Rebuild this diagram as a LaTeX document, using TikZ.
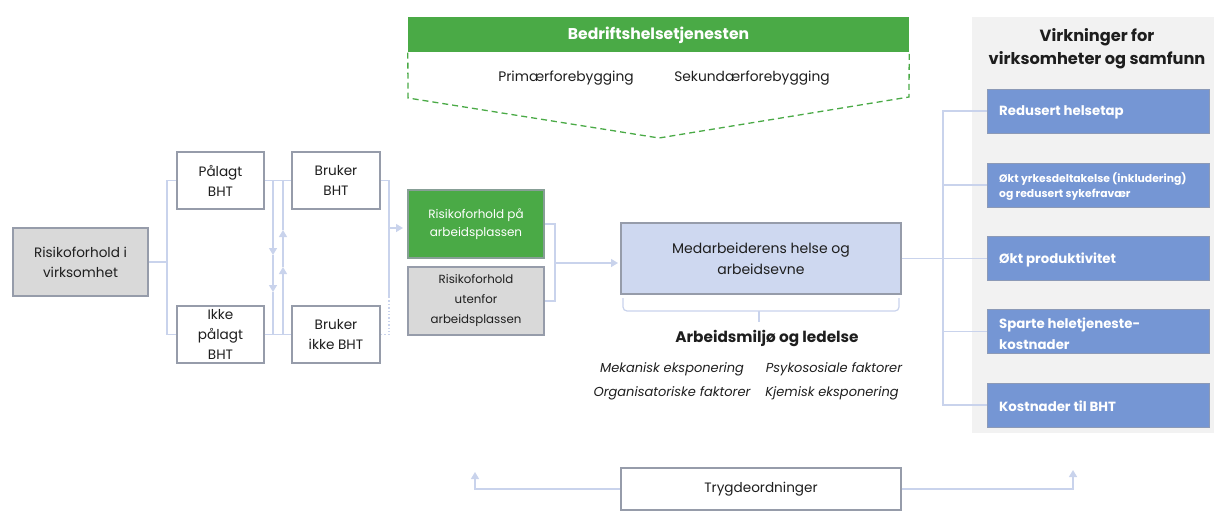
\documentclass[tikz,border=0pt]{standalone}
\usepackage{fontspec}
\setmainfont{Poppins}
\usetikzlibrary{arrows.meta,calc}
\definecolor{lnc}{RGB}{201,211,236}
\definecolor{grn}{RGB}{74,170,70}
\definecolor{grayf}{RGB}{217,217,217}
\definecolor{bordc}{RGB}{150,156,170}
\definecolor{medf}{RGB}{206,216,240}
\definecolor{blu}{RGB}{117,150,212}
\definecolor{panelc}{RGB}{242,242,242}
\definecolor{txt}{RGB}{30,30,30}
\begin{document}
\begin{tikzpicture}[x=1pt,y=-1pt,
  conn/.style={draw=lnc, line width=1.4pt},
  arr/.style={-{Triangle[length=7pt,width=8pt]}},
  box/.style={draw=bordc, line width=1.2pt, align=center, inner sep=0pt, text=txt,
    font=\fontsize{13.6}{20}\selectfont},
  bluebox/.style={draw=bordc!70!blu, line width=1pt, fill=blu, inner sep=0pt,
    minimum width=222pt, minimum height=44pt},
  bluetext/.style={anchor=west, text=white, align=left, inner sep=0pt, yshift=-1.5pt,
    font=\fontsize{13.3}{21}\selectfont\bfseries},
  plain/.style={inner sep=0pt, text=txt, font=\fontsize{13.8}{16}\selectfont},
  ital/.style={inner sep=0pt, text=txt, font=\fontsize{13}{14}\selectfont\itshape}]
\useasboundingbox (0,0) rectangle (1214,527);
% right panel
\node[fill=panelc, minimum width=242pt, minimum height=416pt, inner sep=0pt] (panel) at (1093,225) {};
\node[inner sep=0pt, align=center, text=txt, font=\fontsize{16.2}{23}\selectfont\bfseries] (vtitle) at (1097,49) {Virkninger for\\virksomheter og samfunn};
% left boxes
\node[box, fill=grayf, minimum width=135pt, minimum height=68pt] (risk) at (80.5,262) {Risikoforhold i\\virksomhet};
\node[box, fill=white, minimum width=87pt, minimum height=57pt] (pal) at (220.5,180.5) {Pålagt\\BHT};
\node[box, fill=white, minimum width=87pt, minimum height=57pt] (ikke) at (220.5,334.5) {Ikke\\pålagt\\BHT};
\node[box, fill=white, minimum width=88pt, minimum height=57pt] (bru) at (336,180.5) {Bruker\\BHT};
\node[box, fill=white, minimum width=88pt, minimum height=57pt] (brui) at (336,334.5) {Bruker\\ikke BHT};
\node[box, draw=bordc!80!grn, fill=grn, text=white, minimum width=136pt, minimum height=68pt, font=\fontsize{12}{18.5}\selectfont] (grbox) at (476,224) {Risikoforhold på\\arbeidsplassen};
\node[box, fill=grayf, minimum width=136pt, minimum height=68pt, font=\fontsize{11.8}{20}\selectfont] (gybox) at (476,301) {Risikoforhold\\utenfor\\arbeidsplassen};
\node[box, fill=medf, minimum width=280pt, minimum height=71pt, font=\fontsize{14}{21}\selectfont] (med) at (761,258.5) {Medarbeiderens helse og\\arbeidsevne};
% header
\node[fill=grn, text=white, minimum width=501pt, minimum height=35pt, inner sep=0pt, font=\fontsize{15.6}{16}\selectfont\bfseries] (head) at (658.5,35) {Bedriftshelsetjenesten};
\node[plain] (prim) at (566,78) {Primærforebygging};
\node[plain] (sek) at (752,78) {Sekundærforebygging};
\draw[grn, line width=1.3pt, dash pattern=on 6pt off 4pt] (head.south west) -- (408,98) -- (659,138) -- (909,97) -- (head.south east);
% blue boxes
\node[bluebox] (b1) at (1098,111) {};
\node[bluebox] (b2) at (1098,185) {};
\node[bluebox] (b3) at (1098,258.5) {};
\node[bluebox] (b4) at (1098,331.5) {};
\node[bluebox] (b5) at (1098,405) {};
\node[bluetext] at (999,111) {Redusert helsetap};
\node[bluetext, font=\fontsize{10.8}{15}\selectfont\bfseries] at (999,185.5) {Økt yrkesdeltakelse (inkludering)\\og redusert sykefravær};
\node[bluetext] at (999,258.5) {Økt produktivitet};
\node[bluetext] at (999,332) {Sparte heletjeneste-\\kostnader};
\node[bluetext] at (999,405) {Kostnader til BHT};
% trygd
\node[box, fill=white, minimum width=280pt, minimum height=42pt] (tryg) at (761,489) {Trygdeordninger};
% texts under med
\node[inner sep=0pt, text=txt, font=\fontsize{15.3}{16}\selectfont\bfseries] (arb) at (767,338) {Arbeidsmiljø og ledelse};
\node[ital] (mek) at (672,369) {Mekanisk eksponering};
\node[ital] (org) at (672,393) {Organisatoriske faktorer};
\node[ital] (psy) at (834,369) {Psykososiale faktorer};
\node[ital] (kje) at (832,393) {Kjemisk eksponering};
% coordinates
\coordinate (j1) at (167,262);
\coordinate (va) at (273,180.5);
\coordinate (vb) at (283,180.5);
\coordinate (vc) at (389,180.5);
\coordinate (vd) at (389,297);
\coordinate (ve) at (389,228);
\coordinate (vf) at (403,228);
\coordinate (bk) at (555,224);
\coordinate (bm) at (555,263);
\coordinate (bt) at (618,263);
\coordinate (rj) at (943,258.5);
\coordinate (tl) at (475,472);
\coordinate (tr) at (1073,470);
% connectors left
\draw[conn] (risk.east) -- (j1);
\draw[conn] (pal.west) -| (j1) |- (ikke.west);
\draw[conn] (pal.east) -- (bru.west);
\draw[conn] (ikke.east) -- (brui.west);
\draw[conn,arr] (va) -- (273,255);
\draw[conn,arr] (273,255) -- (273,292);
\draw[conn] (273,292) -- (273,334.5);
\draw[conn,arr] (283,334.5) -- (283,267);
\draw[conn,arr] (283,267) -- (283,230);
\draw[conn] (283,230) -- (vb);
\draw[conn] (bru.east) -- (vc) -- (vd);
\draw[conn, dotted] (vd) |- (brui.east);
\draw[conn,arr] (ve) -- (vf);
\draw[conn] (grbox.east) -| (bk) |- (gybox.east);
\draw[conn,arr] (bm) -- (bt);
% brace
\draw[conn, line width=1.2pt, rounded corners=4pt] (623,298) |- (759,311) -| (899,298);
\draw[conn, line width=1.2pt] (759,311) -- (759,322);
% right
\draw[conn] (med.east) -- (rj);
\draw[conn] (b1.west) -| (rj);
\draw[conn] (b2.west) -| (rj);
\draw[conn] (b3.west) -- (rj);
\draw[conn] (b4.west) -| (rj);
\draw[conn] (b5.west) -| (rj);
% trygd connectors
\draw[conn,arr] (tryg.west) -| (tl);
\draw[conn,arr] (tryg.east) -| (tr);
\end{tikzpicture}
\end{document}
